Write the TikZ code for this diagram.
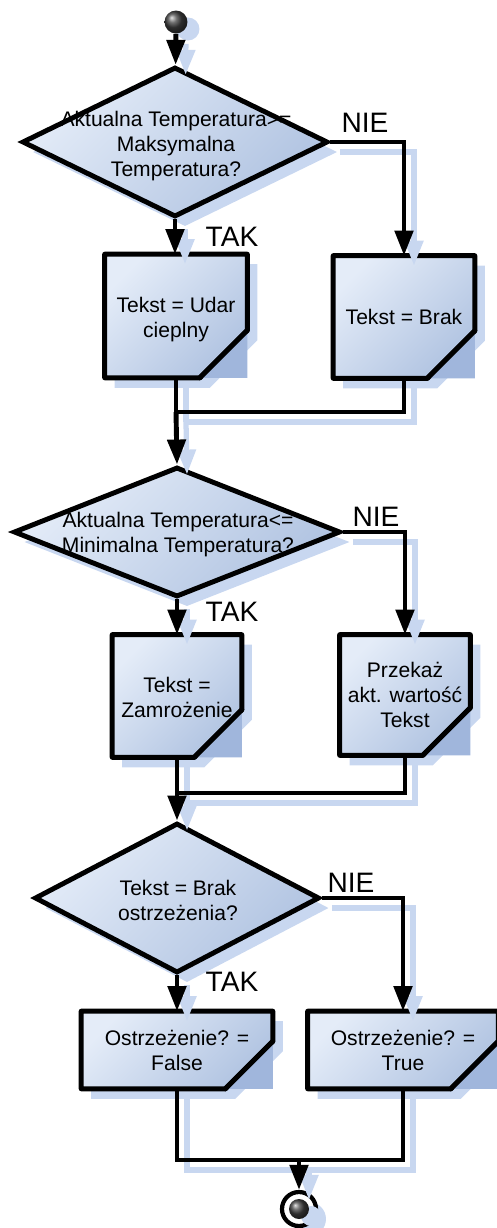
\documentclass[tikz,border=0pt]{standalone}
\usepackage{fontspec}
\setmainfont{Liberation Sans}
\usetikzlibrary{shapes.geometric,arrows.meta,shadows}

\definecolor{boxlight}{RGB}{228,236,248}
\definecolor{boxdark}{RGB}{176,195,225}
\definecolor{shadowblue}{RGB}{200,215,240}
\definecolor{cornerblue}{RGB}{120,150,205}
\tikzset{
  flowchart/.style={x=0.02cm,y=-0.02cm,font=\fontsize{12}{14.2}\selectfont},
  blockshade/.style={draw=black,line width=2.8pt,top color=boxlight,bottom color=boxdark,shading angle=45,
    drop shadow={shadow xshift=0.2cm,shadow yshift=-0.2cm,fill=shadowblue,opacity=1}},
  decision/.style={blockshade,diamond,inner sep=0pt},
  procbox/.style={rectangle,inner sep=0pt},
  txt/.style={align=center,inner sep=0pt},
  answer/.style={inner sep=0pt,font=\fontsize{16}{18}\selectfont},
  line/.style={line width=2.8pt,
    preaction={draw=shadowblue,line width=3pt,transform canvas={shift={(0.2cm,-0.2cm)}}}},
  flow/.style={line,-{Triangle[length=0.5cm,width=0.36cm]}},
  startdot/.style={circle,minimum size=0.46cm,inner sep=0pt,ball color=black!75,
    drop shadow={shadow xshift=0.24cm,shadow yshift=-0.14cm,fill=shadowblue,opacity=1}},
  endring/.style={circle,draw=black,line width=2.4pt,fill=white,minimum size=0.68cm,inner sep=0pt,
    drop shadow={shadow xshift=0.2cm,shadow yshift=-0.2cm,fill=shadowblue,opacity=1}}
}
% box with the lower right corner cut off
\newcommand{\cutbox}[1]{%
  \path[blockshade,line join=round] (#1.north west) -- (#1.north east)
    -- ([yshift=0.95cm]#1.south east) -- ([xshift=-0.95cm]#1.south east)
    -- (#1.south west) -- cycle;
  \fill[cornerblue!70] ([yshift=0.95cm]#1.south east) -- (#1.south east) -- ([xshift=-0.95cm]#1.south east) -- cycle;
  \draw[line width=2.8pt,line cap=round] ([yshift=0.95cm]#1.south east) -- ([xshift=-0.95cm]#1.south east);}

\begin{document}
\begin{tikzpicture}[flowchart]
    \useasboundingbox (0,0) rectangle (497,1228);
    % first decision
    \node[startdot] (start) at (176,22) {};
    \node[decision,minimum width=6.12cm,minimum height=3cm] (d1) at (175,142) {};
    \node[txt] (d1txt) at (176,146) {Aktualna Temperatura>=\\Maksymalna\\Temperatura?};
    \node[procbox,minimum width=2.84cm,minimum height=2.46cm] (b1) at (176,316) {};
    \node[procbox,minimum width=2.82cm,minimum height=2.44cm] (b2) at (404,317) {};
    \cutbox{b1} \cutbox{b2}
    \node[txt] (b1txt) at (176,320) {Tekst = Udar\\cieplny};
    \node[txt] (b2txt) at (404,317) {Tekst = Brak};
    \coordinate (m1) at (176,412);
    % second decision
    \node[decision,minimum width=6.54cm,minimum height=2.6cm] (d2) at (177,532) {};
    \node[txt] (d2txt) at (178,535) {Aktualna Temperatura<=\\Minimalna Temperatura?};
    \node[procbox,minimum width=2.58cm,minimum height=2.44cm] (b3) at (177,696) {};
    \node[procbox,minimum width=2.6cm,minimum height=2.4cm] (b4) at (405,695) {};
    \cutbox{b3} \cutbox{b4}
    \node[txt] (b3txt) at (177,697) {Tekst =\\Zamrożenie};
    \node[txt] (b4txt) at (405,695) {Przekaż\\akt. wartość\\Tekst};
    \coordinate (m2) at (177,793);
    % third decision
    \node[decision,minimum width=5.7cm,minimum height=3cm] (d3) at (177,898) {};
    \node[txt] (d3txt) at (178,900) {Tekst = Brak\\ostrzeżenia?};
    \node[procbox,minimum width=3.82cm,minimum height=1.54cm] (b5) at (177,1050) {};
    \node[procbox,minimum width=3.8cm,minimum height=1.54cm] (b6) at (403,1050) {};
    \cutbox{b5} \cutbox{b6}
    \node[txt] (b5txt) at (177,1050) {Ostrzeżenie? =\\False};
    \node[txt] (b6txt) at (403,1050) {Ostrzeżenie? =\\True};
    \coordinate (m3) at (299,1160);
    \node[endring] (stop) at (299,1209) {};
    \node[startdot,minimum size=0.4cm,drop shadow={opacity=0}] (stopdot) at (stop) {};
    % answers
    \node[answer] (nie1) at (365,123) {NIE};
    \node[answer] (tak1) at (232,237) {TAK};
    \node[answer] (nie2) at (376,517) {NIE};
    \node[answer] (tak2) at (232,612) {TAK};
    \node[answer] (nie3) at (351,883) {NIE};
    \node[answer] (tak3) at (232,982) {TAK};
    % connectors
    \draw[flow] (start) -- (d1);
    \draw[flow] (d1.south) -- (d1.south |- b1.north);
    \draw[flow] (d1.east) -| (b2.north);
    \draw[line] (b1.south) |- (m1);
    \draw[line] (b2.south) |- (m1);
    \draw[flow] (m1) -- (d2.north);
    \draw[flow] (d2.south) -- (d2.south |- b3.north);
    \draw[flow] (d2.east) -| (b4.north);
    \draw[line] (b3.south) -- (m2);
    \draw[line] (b4.south) |- (m2);
    \draw[flow] (m2) -- (d3.north);
    \draw[flow] (d3.south) -- (b5.north);
    \draw[flow] (d3.east) -| (b6.north);
    \draw[line] (b5.south) |- (m3);
    \draw[line] (b6.south) |- (m3);
    \draw[flow] (m3) -- (stop);
\end{tikzpicture}
\end{document}
